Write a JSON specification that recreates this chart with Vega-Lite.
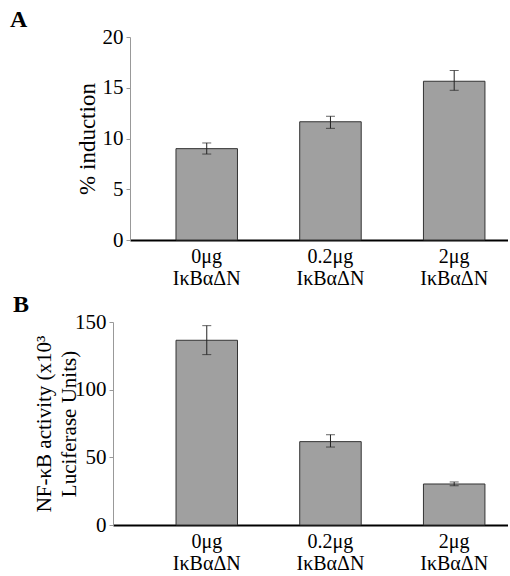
{
  "$schema": "https://vega.github.io/schema/vega-lite/v6.json",
  "padding": {"left": 10, "top": 8, "right": 0, "bottom": 0},
  "spacing": 5,
  "config": {
    "view": {"stroke": null},
    "font": "Liberation Serif",
    "axis": {"labelFont": "Liberation Serif", "titleFont": "Liberation Serif", "labelColor": "black", "titleColor": "black", "grid": false, "titleFontWeight": "normal"},
    "title": {"font": "Liberation Serif", "fontSize": 24, "fontWeight": "bold", "anchor": "start", "frame": "group", "color": "black", "offset": -6}
  },
  "datasets": {
    "a": [
      {"dose": "0μg IκBαΔN", "value": 9.0, "lo": 8.47, "hi": 9.56},
      {"dose": "0.2μg IκBαΔN", "value": 11.65, "lo": 11.0, "hi": 12.19},
      {"dose": "2μg IκBαΔN", "value": 15.64, "lo": 14.75, "hi": 16.7}
    ],
    "b": [
      {"dose": "0μg IκBαΔN", "value": 136.5, "lo": 125.9, "hi": 147.3},
      {"dose": "0.2μg IκBαΔN", "value": 61.6, "lo": 57.6, "hi": 66.7},
      {"dose": "2μg IκBαΔN", "value": 30.3, "lo": 29.0, "hi": 31.8}
    ]
  },
  "vconcat": [
    {
      "title": {"text": "A", "dx": -103},
      "width": 395,
      "height": 203,
      "data": {"name": "a"},
      "encoding": {
        "x": {
          "field": "dose", "type": "nominal", "sort": null,
          "scale": {"range": [17, 395], "paddingInner": 0.503, "paddingOuter": 0.279, "align": 0.666},
          "axis": {"title": null, "labelAngle": 0, "ticks": false, "domainColor": "black", "domainWidth": 2, "labelFontSize": 20, "labelPadding": 6, "labelLineHeight": 22, "labelExpr": "split(datum.label, ' ')"}
        }
      },
      "layer": [
        {
          "mark": {"type": "bar", "fill": "#a0a0a0", "stroke": "#333333", "strokeWidth": 1},
          "encoding": {
            "y": {
              "field": "value", "type": "quantitative",
              "scale": {"domain": [0, 20], "nice": false},
              "title": "% induction",
              "axis": {"values": [0, 5, 10, 15, 20], "titleFontSize": 23, "labelFontSize": 21, "domainColor": "#999999", "tickColor": "#999999", "tickSize": 4, "offset": -17, "titlePadding": 3, "labelPadding": 3}
            }
          }
        },
        {
          "mark": {"type": "errorbar", "ticks": {"size": 9}, "color": "#222222"},
          "encoding": {
            "y": {"field": "lo", "type": "quantitative", "scale": {"domain": [0, 20], "nice": false}, "title": "% induction"},
            "y2": {"field": "hi"}
          }
        }
      ]
    },
    {
      "title": {"text": "B", "dx": -100},
      "width": 395,
      "height": 203,
      "data": {"name": "b"},
      "encoding": {
        "x": {
          "field": "dose", "type": "nominal", "sort": null,
          "scale": {"paddingInner": 0.503, "paddingOuter": 0.348, "align": 0.732},
          "axis": {"title": null, "labelAngle": 0, "ticks": false, "domainColor": "black", "domainWidth": 2, "labelFontSize": 20, "labelPadding": 6, "labelLineHeight": 22, "labelExpr": "split(datum.label, ' ')"}
        }
      },
      "layer": [
        {
          "mark": {"type": "bar", "fill": "#a0a0a0", "stroke": "#333333", "strokeWidth": 1},
          "encoding": {
            "y": {
              "field": "value", "type": "quantitative",
              "scale": {"domain": [0, 150], "nice": false},
              "title": ["NF-κB activity (x10³", "Luciferase Units)"],
              "axis": {"values": [0, 50, 100, 150], "titleFontSize": 21, "titleLineHeight": 25, "labelFontSize": 21, "domainColor": "#999999", "tickColor": "#999999", "tickSize": 4, "titlePadding": -5, "labelPadding": 3}
            }
          }
        },
        {
          "mark": {"type": "errorbar", "ticks": {"size": 9}, "color": "#222222"},
          "encoding": {
            "y": {"field": "lo", "type": "quantitative", "scale": {"domain": [0, 150], "nice": false}, "title": ["NF-κB activity (x10³", "Luciferase Units)"]},
            "y2": {"field": "hi"}
          }
        }
      ]
    }
  ]
}
